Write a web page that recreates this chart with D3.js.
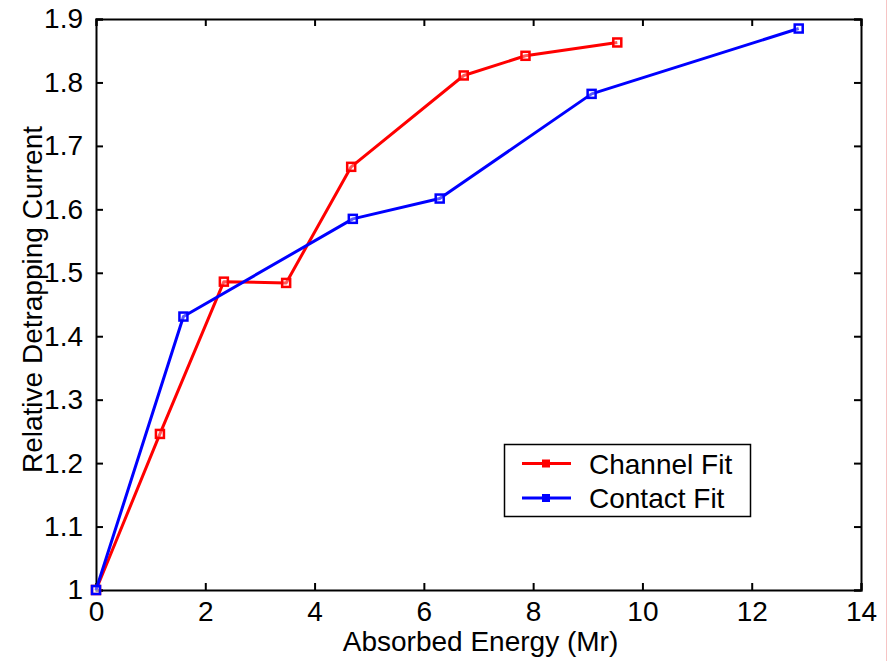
<!DOCTYPE html>
<html><head><meta charset="utf-8">
<script src="https://cdn.jsdelivr.net/npm/d3@7"></script>
<style>body{margin:0;background:#fff}svg{display:block}text{font-family:"Liberation Sans",Arial,sans-serif;fill:#000}</style>
</head><body>
<svg id="c" width="888" height="661"></svg>
<script>
const channelX = [0, 1.17, 2.34, 3.48, 4.67, 6.73, 7.86, 9.54];
const channelY = [1.0, 1.246, 1.486, 1.484, 1.667, 1.811, 1.842, 1.863];
const contactX = [0, 1.6, 4.7, 6.29, 9.07, 12.86];
const contactY = [1.0, 1.431, 1.585, 1.617, 1.782, 1.885];
const xTicks = [0, 2, 4, 6, 8, 10, 12, 14];
const yTicks = [1, 1.1, 1.2, 1.3, 1.4, 1.5, 1.6, 1.7, 1.8, 1.9];
const seriesNames = ["Channel Fit", "Contact Fit"];
const seriesColors = ["#ff0000", "#0000ff"];

const svg = d3.select("#c");
const L = 96, R = 861, T = 19, B = 590;
const x = d3.scaleLinear().domain([0, 14]).range([L, R]);
const y = d3.scaleLinear().domain([1, 1.9]).range([B, T]);
const fs = 28;

// faint right border artifact
svg.append("line").attr("x1", 886.5).attr("x2", 886.5).attr("y1", 0).attr("y2", 661)
  .attr("stroke", "#f6c4c4").attr("stroke-width", 1);

// axes
const xb = svg.append("g").attr("transform", `translate(0,${B})`)
  .call(d3.axisBottom(x).tickValues(xTicks).tickSize(-7).tickPadding(11).tickFormat(d3.format("d")));
const xt = svg.append("g").attr("transform", `translate(0,${T})`)
  .call(d3.axisTop(x).tickValues(xTicks).tickSize(-7).tickFormat(""));
const yl = svg.append("g").attr("transform", `translate(${L},0)`)
  .call(d3.axisLeft(y).tickValues(yTicks).tickSize(-7).tickPadding(13).tickFormat(d => d === 1 ? "1" : d3.format(".1f")(d)));
const yr = svg.append("g").attr("transform", `translate(${R},0)`)
  .call(d3.axisRight(y).tickValues(yTicks).tickSize(-7).tickFormat(""));
[xb, xt, yl, yr].forEach(g => {
  g.selectAll(".domain").attr("stroke", "#000").attr("stroke-width", 2);
  g.selectAll(".tick line").attr("stroke", "#000").attr("stroke-width", 2);
  g.selectAll("text").attr("font-size", fs).attr("font-family", "Liberation Sans, Arial, sans-serif").attr("fill", "#000");
});

// series
function drawSeries(xs, ys, color) {
  const pts = xs.map((v, i) => [v, ys[i]]);
  svg.append("path").datum(pts)
    .attr("d", d3.line().x(d => x(d[0])).y(d => y(d[1])))
    .attr("fill", "none").attr("stroke", color).attr("stroke-width", 3).attr("stroke-linejoin", "round");
  svg.append("g").selectAll("rect").data(pts).join("rect")
    .attr("x", d => x(d[0]) - 4).attr("y", d => y(d[1]) - 4)
    .attr("width", 8).attr("height", 8)
    .attr("fill", "#fff").attr("fill-opacity", 0.35).attr("stroke", color).attr("stroke-width", 2.5);
}
drawSeries(channelX, channelY, seriesColors[0]);
drawSeries(contactX, contactY, seriesColors[1]);

// axis labels
svg.append("text").attr("x", (L + R) / 2 + 2).attr("y", 651).attr("text-anchor", "middle")
  .attr("font-size", fs).text("Absorbed Energy (Mr)");
svg.append("text").attr("transform", `translate(42,${(T + B) / 2 - 5}) rotate(-90)`).attr("text-anchor", "middle")
  .attr("font-size", fs).text("Relative Detrapping Current");

// legend
const lg = svg.append("g");
lg.append("rect").attr("x", 504.5).attr("y", 444.5).attr("width", 246).attr("height", 72)
  .attr("fill", "#fff").attr("stroke", "#000").attr("stroke-width", 1.5);
seriesNames.forEach((n, i) => {
  const yy = 463.5 + i * 34.5;
  lg.append("line").attr("x1", 522).attr("x2", 571).attr("y1", yy).attr("y2", yy)
    .attr("stroke", seriesColors[i]).attr("stroke-width", 3);
  lg.append("rect").attr("x", 542).attr("y", yy - 4).attr("width", 8).attr("height", 8).attr("fill", seriesColors[i]);
  lg.append("text").attr("x", 589).attr("y", yy + 10).attr("font-size", fs).text(n);
});
</script>
</body></html>
